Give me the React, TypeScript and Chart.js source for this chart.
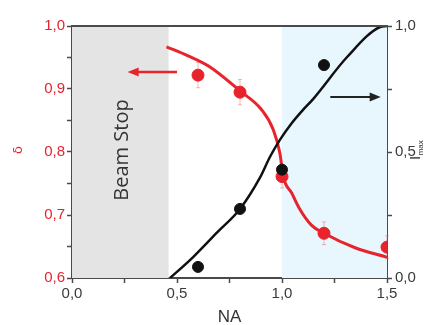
import React, { useEffect, useRef } from "react";
import { Chart, registerables } from "chart.js";

Chart.register(...registerables);

// ---- data ----
const redPointsX = [0.6, 0.8, 1.0, 1.2, 1.5];
const redPointsY = [0.922, 0.895, 0.761, 0.671, 0.649];
const redErr = [0.02, 0.02, 0.018, 0.018, 0.018];

const blackPointsX = [0.6, 0.8, 1.0, 1.2];
const blackPointsY = [0.044, 0.274, 0.43, 0.845];

const redCurveX = [0.45, 0.55, 0.657, 0.8, 0.903, 0.959, 0.99, 1.006, 1.046, 1.08, 1.14, 1.2, 1.348, 1.5];
const redCurveY = [0.967, 0.953, 0.935, 0.897, 0.867, 0.835, 0.798, 0.761, 0.735, 0.712, 0.684, 0.671, 0.648, 0.633];

const blackCurveX = [0.467, 0.577, 0.69, 0.8, 0.895, 0.943, 0.99, 1.046, 1.1, 1.148, 1.31, 1.467, 1.5];
const blackCurveY = [0.0, 0.083, 0.18, 0.274, 0.398, 0.481, 0.548, 0.614, 0.667, 0.71, 0.877, 0.996, 1.0];

const beamStopRange = [0, 0.46];
const blueRange = [1.0, 1.5];
const redArrow = { x0: 0.5, x1: 0.265, y: 0.927 };
const blackArrow = { x0: 1.23, x1: 1.47, y: 0.718 };

const xTicksMajor = [0, 0.5, 1.0, 1.5];
const leftTickLabels = ["0,6", "0,7", "0,8", "0,9", "1,0"];
const rightTickLabels = ["0,0", "0,5", "1,0"];

const RED = "#e8232c";
const DARK = "#3a3a3a";
const AXIS = "#4a4a4a";

const fmt = (v: number) => v.toFixed(1).replace(".", ",");
const isMult = (v: number, step: number) => Math.abs(v / step - Math.round(v / step)) < 1e-6;

const decorPlugin = {
  id: "decor",
  beforeDatasetsDraw(chart: any) {
    const { ctx, chartArea: a, scales } = chart;
    const x = scales.x;
    ctx.save();
    ctx.fillStyle = "#e4e4e4";
    const g0 = x.getPixelForValue(beamStopRange[0]);
    const g1 = x.getPixelForValue(beamStopRange[1]);
    ctx.fillRect(g0, a.top, g1 - g0, a.bottom - a.top);
    ctx.fillStyle = "#e7f7fd";
    const b0 = x.getPixelForValue(blueRange[0]);
    const b1 = x.getPixelForValue(blueRange[1]);
    ctx.fillRect(b0, a.top, b1 - b0, a.bottom - a.top);

    // Beam Stop text
    ctx.translate((g0 + g1) / 2 + 2, a.top + (a.bottom - a.top) * 0.5 - 2);
    ctx.rotate(-Math.PI / 2);
    ctx.fillStyle = "#333";
    ctx.font = '20px "Open Sans"';
    ctx.textAlign = "center";
    ctx.textBaseline = "middle";
    ctx.fillText("Beam Stop", 0, 0);
    ctx.restore();

    // error bars
    const y = scales.y;
    ctx.save();
    ctx.strokeStyle = "rgba(235,90,100,0.45)";
    ctx.lineWidth = 1;
    redPointsX.forEach((vx, i) => {
      const px = x.getPixelForValue(vx);
      const pt = y.getPixelForValue(redPointsY[i] + redErr[i]);
      const pb = y.getPixelForValue(redPointsY[i] - redErr[i]);
      ctx.beginPath();
      ctx.moveTo(px, pt);
      ctx.lineTo(px, pb);
      ctx.moveTo(px - 2, pt);
      ctx.lineTo(px + 2, pt);
      ctx.moveTo(px - 2, pb);
      ctx.lineTo(px + 2, pb);
      ctx.stroke();
    });
    ctx.restore();
  },
  afterDraw(chart: any) {
    const { ctx, chartArea: a, scales } = chart;
    const x = scales.x;
    const y = scales.y;
    const y1 = scales.y1;
    ctx.save();
    // top border
    ctx.strokeStyle = AXIS;
    ctx.lineWidth = 2;
    ctx.beginPath();
    ctx.moveTo(a.left, a.top);
    ctx.lineTo(a.right, a.top);
    ctx.stroke();

    const arrow = (x0: number, x1: number, py: number, color: string, w: number) => {
      ctx.strokeStyle = color;
      ctx.fillStyle = color;
      ctx.lineWidth = w;
      const dir = Math.sign(x1 - x0);
      ctx.beginPath();
      ctx.moveTo(x0, py);
      ctx.lineTo(x1 - dir * 8, py);
      ctx.stroke();
      ctx.beginPath();
      ctx.moveTo(x1, py);
      ctx.lineTo(x1 - dir * 11, py - 4.5);
      ctx.lineTo(x1 - dir * 11, py + 4.5);
      ctx.closePath();
      ctx.fill();
    };
    arrow(x.getPixelForValue(redArrow.x0), x.getPixelForValue(redArrow.x1), y.getPixelForValue(redArrow.y), RED, 2.5);
    arrow(x.getPixelForValue(blackArrow.x0), x.getPixelForValue(blackArrow.x1), y1.getPixelForValue(blackArrow.y), "#222", 2);

    // axis titles
    ctx.textAlign = "center";
    ctx.textBaseline = "middle";
    ctx.fillStyle = "#333";
    ctx.font = '17px "Liberation Sans"';
    ctx.fillText("NA", (a.left + a.right) / 2, 317);

    ctx.save();
    ctx.translate(19, (a.top + a.bottom) / 2 - 2);
    ctx.rotate(-Math.PI / 2);
    ctx.fillStyle = RED;
    ctx.font = '13px "DejaVu Sans"';
    ctx.fillText("δ", 0, 0);
    ctx.restore();

    ctx.save();
    ctx.translate(416, (a.top + a.bottom) / 2);
    ctx.rotate(-Math.PI / 2);
    ctx.fillStyle = "#333";
    ctx.textAlign = "left";
    ctx.font = '15px "Liberation Sans"';
    ctx.fillText("I", -8, 0);
    const w = ctx.measureText("I").width;
    ctx.font = '8px "Liberation Sans"';
    ctx.fillText("max", -8 + w + 0.5, 5);
    ctx.restore();

    ctx.restore();
  },
};

export default function App() {
  const ref = useRef<HTMLCanvasElement>(null);
  useEffect(() => {
    if (!ref.current) return;
    const tickFont = { family: '"Liberation Sans", Arial', size: 15 };
    const chart = new Chart(ref.current, {
      type: "scatter",
      data: {
        datasets: [
          {
            label: "red fit",
            data: redCurveX.map((v, i) => ({ x: v, y: redCurveY[i] })),
            showLine: true,
            borderColor: RED,
            borderWidth: 3,
            pointRadius: 0,
            cubicInterpolationMode: "monotone",
            yAxisID: "y",
            order: 3,
          },
          {
            label: "black fit",
            data: blackCurveX.map((v, i) => ({ x: v, y: blackCurveY[i] })),
            showLine: true,
            borderColor: "#111",
            borderWidth: 2.5,
            pointRadius: 0,
            cubicInterpolationMode: "monotone",
            yAxisID: "y1",
            order: 2,
          },
          {
            label: "red pts",
            data: redPointsX.map((v, i) => ({ x: v, y: redPointsY[i] })),
            backgroundColor: RED,
            borderColor: RED,
            pointRadius: 6,
            yAxisID: "y",
            clip: 0,
            order: 1,
          },
          {
            label: "black pts",
            data: blackPointsX.map((v, i) => ({ x: v, y: blackPointsY[i] })),
            backgroundColor: "#111",
            borderColor: "#111",
            pointRadius: 5.5,
            yAxisID: "y1",
            order: 0,
          },
        ],
      } as any,
      plugins: [decorPlugin],
      options: {
        animation: false,
        responsive: false,
        layout: { padding: { top: 26, right: 0, left: 0, bottom: 0 } },
        plugins: { legend: { display: false }, tooltip: { enabled: false } },
        scales: {
          x: {
            type: "linear",
            min: 0,
            max: 1.5,
            afterFit: (s: any) => { s.height = 47; },
            ticks: {
              stepSize: 0.25,
              color: DARK,
              font: tickFont,
              padding: 2,
              maxRotation: 0,
              autoSkip: false,
              callback: (v: any) => (xTicksMajor.some((m) => Math.abs(m - v) < 1e-6) ? fmt(v) : ""),
            },
            grid: { drawOnChartArea: false, drawTicks: true, tickLength: 5, tickColor: AXIS, tickWidth: 1.5 },
            border: { display: true, color: AXIS, width: 2 },
          },
          y: {
            type: "linear",
            position: "left",
            min: 0.6,
            max: 1.0,
            afterFit: (s: any) => { s.width = 72; },
            ticks: {
              stepSize: 0.05,
              color: RED,
              font: tickFont,
              padding: 2,
              autoSkip: false,
              callback: (v: any) => (isMult(v, 0.1) ? leftTickLabels[Math.round((v - 0.6) * 10)] : ""),
            },
            grid: { drawOnChartArea: false, drawTicks: true, tickLength: 5, tickColor: AXIS, tickWidth: 1.5 },
            border: { display: true, color: AXIS, width: 2 },
          },
          y1: {
            type: "linear",
            position: "right",
            min: 0,
            max: 1,
            afterFit: (s: any) => { s.width = 43; },
            ticks: {
              stepSize: 0.25,
              color: DARK,
              font: tickFont,
              padding: 3,
              autoSkip: false,
              callback: (v: any) => (isMult(v, 0.5) ? rightTickLabels[Math.round(v * 2)] : ""),
            },
            grid: { drawOnChartArea: false, drawTicks: true, tickLength: 5, tickColor: AXIS, tickWidth: 1.5 },
            border: { display: true, color: AXIS, width: 2 },
          },
        },
      } as any,
    });
    return () => chart.destroy();
  }, []);
  return (
    <div style={{ position: "fixed", left: 0, top: 0, width: 430, height: 325, background: "#fff" }}>
      <canvas ref={ref} width={430} height={325} />
    </div>
  );
}
